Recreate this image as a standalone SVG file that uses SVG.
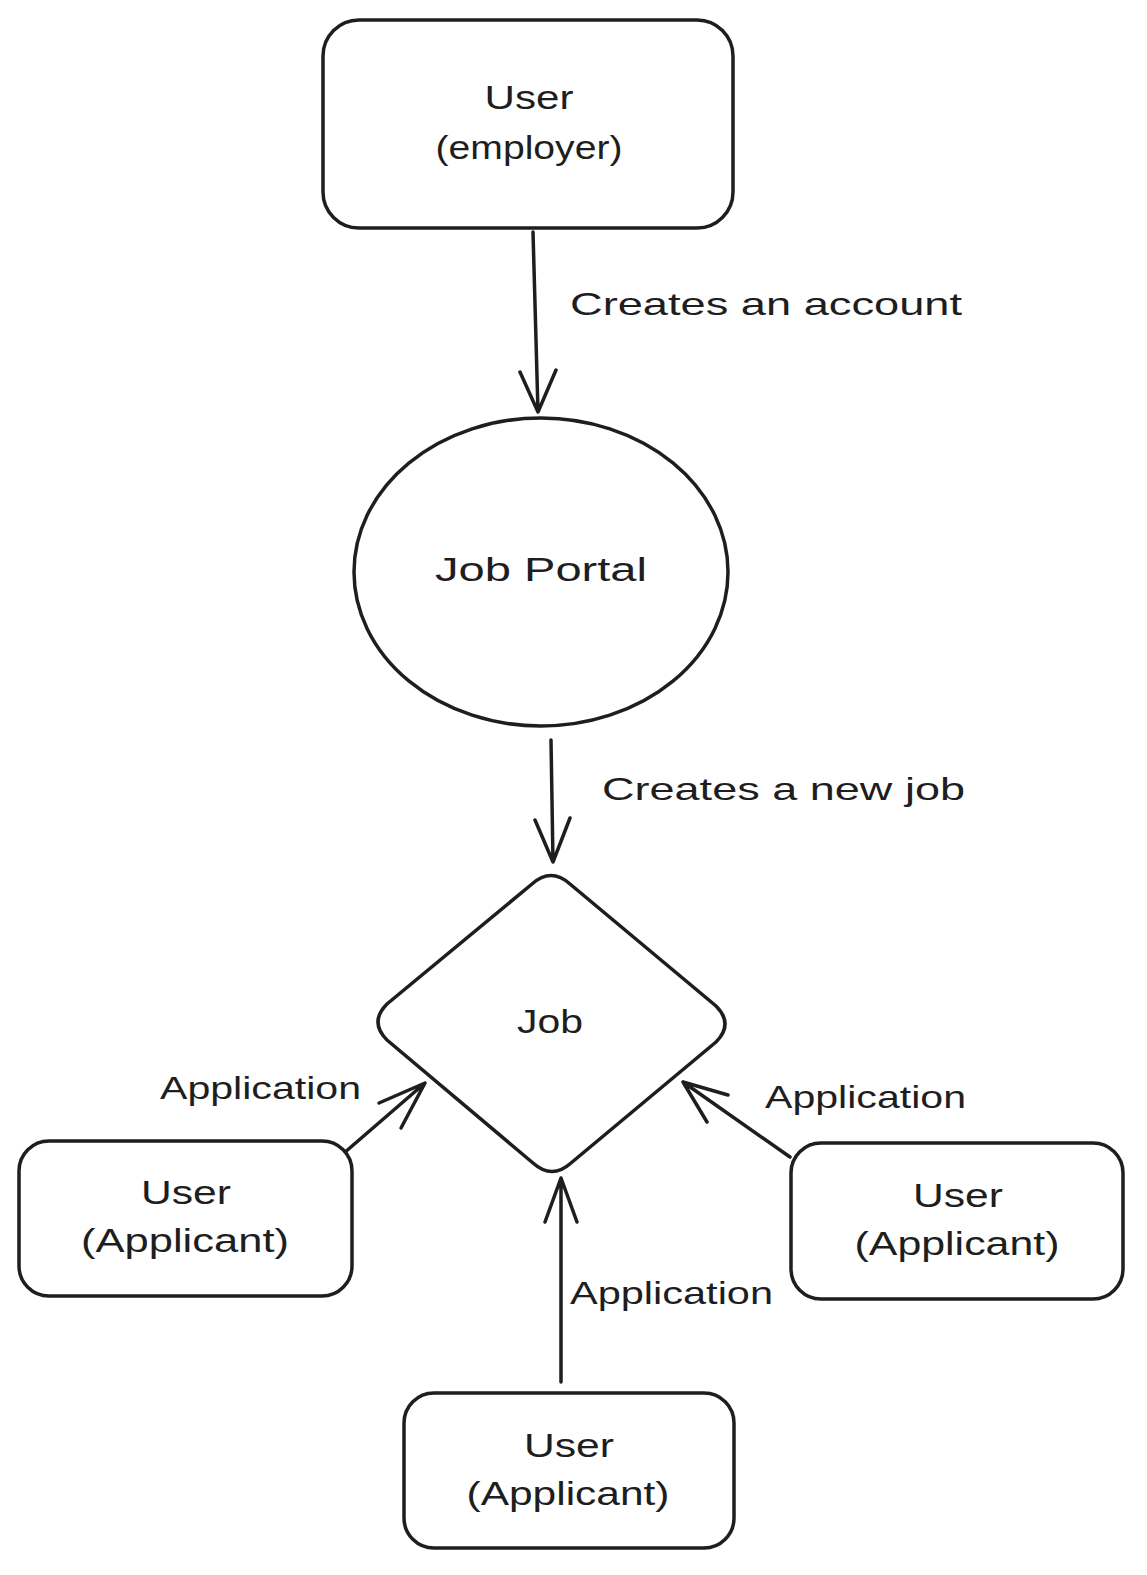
<svg xmlns="http://www.w3.org/2000/svg" width="1147" height="1575" viewBox="0 0 1147 1575">
<style>
.s{fill:none;stroke:#1e1e1e;stroke-width:3.5;stroke-linecap:round;stroke-linejoin:round}
.n{fill:#ffffff;stroke:#1e1e1e;stroke-width:3.5}
.t{font-family:"Liberation Sans","DejaVu Sans",sans-serif;font-size:33px;fill:#1e1e1e;text-anchor:middle}
.l{font-family:"Liberation Sans","DejaVu Sans",sans-serif;font-size:32px;fill:#1e1e1e}
</style>
<rect width="1147" height="1575" fill="#ffffff"/>
<g id="connectors">
<g id="c1"><path class="s" d="M533 232 L538 412 M520 372 L538 412 L556 370"/></g>
<g id="c2"><path class="s" d="M551 740 L553 862 M535 820 L553 862 L570 818"/></g>
<g id="c3"><path class="s" d="M344 1153 L425 1083 M379 1103 L425 1083 L401 1128"/></g>
<g id="c4"><path class="s" d="M790 1157 L683 1082 M707 1122 L683 1082 L728 1095"/></g>
<g id="c5"><path class="s" d="M561 1382 L561 1178 M545 1222 L561 1178 L577 1222"/></g>
<text class="l" x="570" y="315" textLength="392" lengthAdjust="spacingAndGlyphs">Creates an account</text>
<text class="l" x="602" y="800" textLength="363" lengthAdjust="spacingAndGlyphs">Creates a new job</text>
<text class="l" x="160" y="1099" textLength="201" lengthAdjust="spacingAndGlyphs">Application</text>
<text class="l" x="765" y="1108" textLength="201" lengthAdjust="spacingAndGlyphs">Application</text>
<text class="l" x="570" y="1304" textLength="203" lengthAdjust="spacingAndGlyphs">Application</text>
</g>
<g id="employer">
<rect class="n" x="323" y="20" width="410" height="208" rx="36"/>
<text class="t" x="529" y="109" textLength="89" lengthAdjust="spacingAndGlyphs">User</text>
<text class="t" x="529" y="159" textLength="187" lengthAdjust="spacingAndGlyphs">(employer)</text>
</g>
<g id="portal">
<ellipse class="n" cx="541" cy="572" rx="187" ry="154"/>
<text class="t" x="541" y="581" textLength="212" lengthAdjust="spacingAndGlyphs">Job Portal</text>
</g>
<g id="job">
<path class="n" d="M532 884 Q551 867 570 884 L716 1006 Q734 1024 716 1042 L571 1163 Q552 1180 533 1163 L387 1040 Q369 1022 387 1004 Z"/>
<text class="t" x="550" y="1033" textLength="66" lengthAdjust="spacingAndGlyphs">Job</text>
</g>
<g id="applicant-left">
<rect class="n" x="19" y="1141" width="333" height="155" rx="30"/>
<text class="t" x="186" y="1204" textLength="90" lengthAdjust="spacingAndGlyphs">User</text>
<text class="t" x="185" y="1252" textLength="208" lengthAdjust="spacingAndGlyphs">(Applicant)</text>
</g>
<g id="applicant-right">
<rect class="n" x="791" y="1143" width="332" height="156" rx="30"/>
<text class="t" x="958" y="1207" textLength="90" lengthAdjust="spacingAndGlyphs">User</text>
<text class="t" x="957" y="1255" textLength="205" lengthAdjust="spacingAndGlyphs">(Applicant)</text>
</g>
<g id="applicant-bottom">
<rect class="n" x="404" y="1393" width="330" height="155" rx="30"/>
<text class="t" x="569" y="1457" textLength="90" lengthAdjust="spacingAndGlyphs">User</text>
<text class="t" x="568" y="1505" textLength="203" lengthAdjust="spacingAndGlyphs">(Applicant)</text>
</g>
</svg>
